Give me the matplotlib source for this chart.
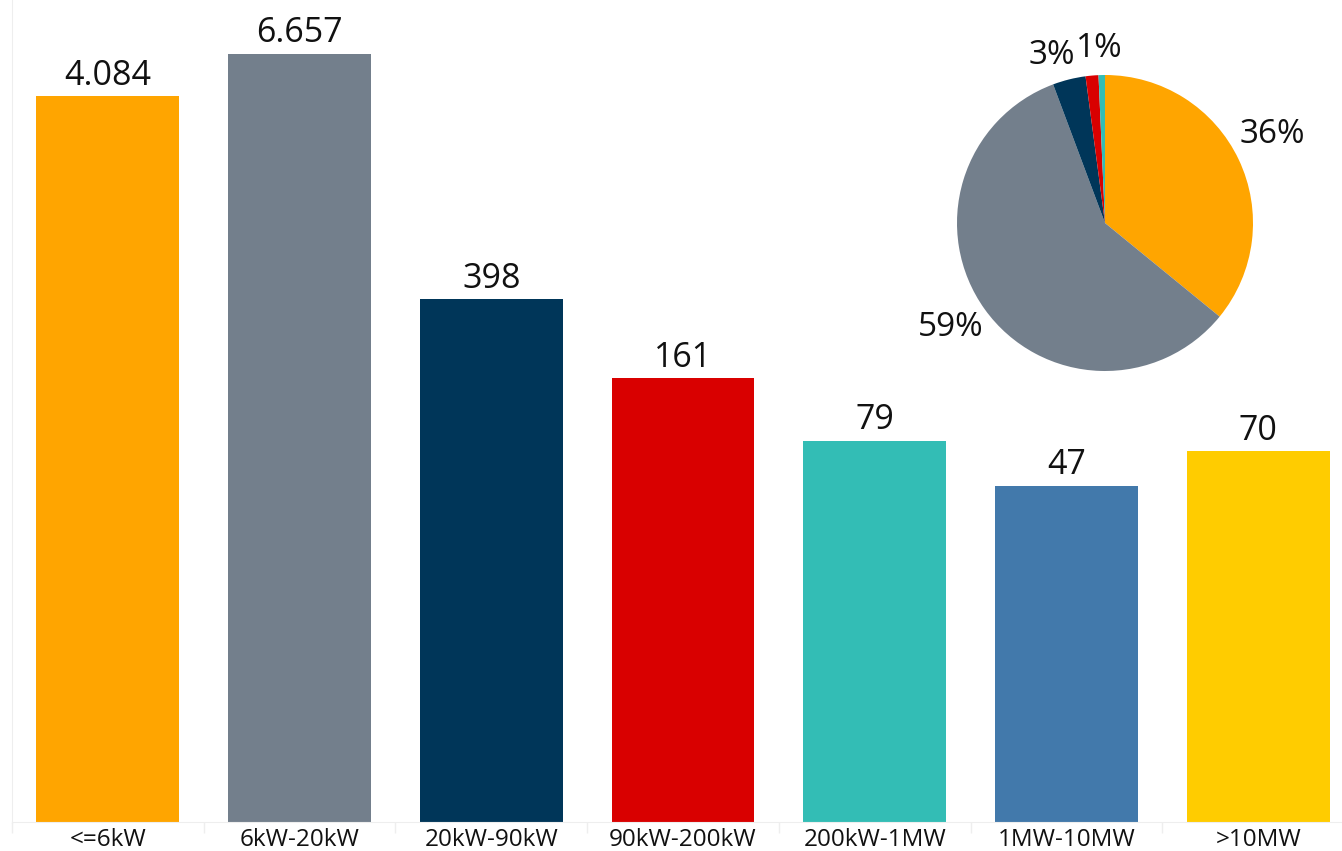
import matplotlib
matplotlib.use("Agg")
import matplotlib.pyplot as plt
import numpy as np

categories = ["<=6kW", "6kW-20kW", "20kW-90kW", "90kW-200kW", "200kW-1MW", "1MW-10MW", ">10MW"]
values = [4084, 6657, 398, 161, 79, 47, 70]
value_labels = ["4.084", "6.657", "398", "161", "79", "47", "70"]
colors = ["#FFA500", "#737F8C", "#003659", "#D90000", "#33BDB5", "#4279AB", "#FFCC00"]

pie_shares = [35.9, 58.4, 3.6, 1.4, 0.7]
pie_labels = ["36%", "59%", "3%", "1%", ""]

plt.rcParams['font.family'] = ['Open Sans', 'DejaVu Sans']
TXT = "#111111"

W, H = 1342, 851
fig = plt.figure(figsize=(W / 100, H / 100), dpi=100)

ax = fig.add_axes([12 / W, 29 / H, (W - 12) / W, 822 / H])
x = np.arange(len(categories))
ax.bar(x, values, width=0.745, color=colors)
ax.set_yscale("log")
for xi, v, lab in zip(x, values, value_labels):
    ax.annotate(lab, (xi, v), xytext=(0, 2.5), textcoords="offset points",
                ha="center", va="bottom", fontsize=24.5, color=TXT)
ax.set_xticks(x)
ax.set_xticklabels(categories, fontsize=17.5, color=TXT)
ax.set_xticks(np.arange(-0.5, 7, 1), minor=True)
ax.tick_params(axis="x", which="major", length=0, pad=4)
ax.tick_params(axis="x", which="minor", length=8, color="#eeeeee", width=1)
ax.set_yticks([])
ax.yaxis.set_minor_locator(matplotlib.ticker.NullLocator())
ax.set_ylim(1, 10 ** (822 / 201))
ax.set_xlim(-0.5, 6.5 - 12 / 192)
for s in ["top", "right"]:
    ax.spines[s].set_visible(False)
ax.spines["left"].set_color("#eeeeee")
ax.spines["bottom"].set_color("#eeeeee")

pax = fig.add_axes([957 / W, (H - 371) / H, 296 / W, 296 / H])
wedges, _ = pax.pie(pie_shares, colors=colors[:len(pie_shares)], startangle=90,
                    counterclock=False, radius=1)
pax.set_xlim(-1, 1)
pax.set_ylim(-1, 1)
dists = [1.276, 1.26, 1.19, 1.18, 1.2]
nudges = [2.4, -1.5, 3.7, -3.0, 0.0]
for w, lab, d, nd in zip(wedges, pie_labels, dists, nudges):
    if not lab:
        continue
    ang = np.deg2rad((w.theta1 + w.theta2) / 2 + nd)
    pax.text(d * np.cos(ang), d * np.sin(ang), lab, ha="center", va="center",
             fontsize=24, color=TXT, clip_on=False)

fig.savefig("out.png", dpi=100)
